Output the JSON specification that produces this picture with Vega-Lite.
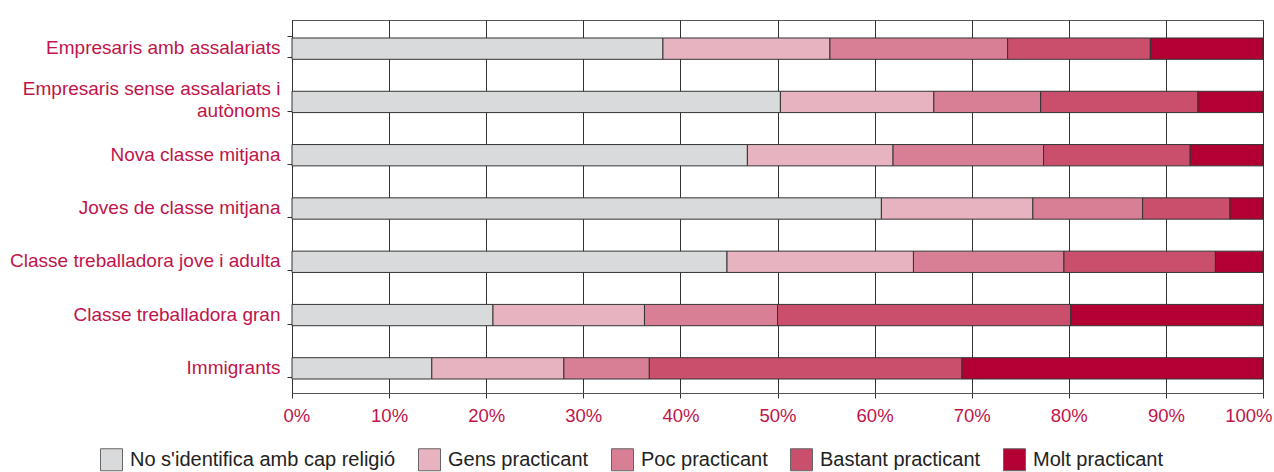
{
  "$schema": "https://vega.github.io/schema/vega-lite/v6.json",
  "autosize": {"type": "none"},
  "padding": {"left": 292, "top": 20, "right": 11, "bottom": 79},
  "width": 971,
  "height": 373,
  "background": "white",
  "config": {
    "font": "Liberation Sans",
    "view": {"stroke": "#555", "strokeWidth": 1}
  },
  "data": {
    "values": [
      {"grup": "Empresaris amb assalariats", "cat": "No s'identifica amb cap religió", "ord": 1, "v": 38.2},
      {"grup": "Empresaris amb assalariats", "cat": "Gens practicant", "ord": 2, "v": 17.2},
      {"grup": "Empresaris amb assalariats", "cat": "Poc practicant", "ord": 3, "v": 18.3},
      {"grup": "Empresaris amb assalariats", "cat": "Bastant practicant", "ord": 4, "v": 14.7},
      {"grup": "Empresaris amb assalariats", "cat": "Molt practicant", "ord": 5, "v": 11.6},
      {"grup": "Empresaris sense assalariats i autònoms", "cat": "No s'identifica amb cap religió", "ord": 1, "v": 50.3},
      {"grup": "Empresaris sense assalariats i autònoms", "cat": "Gens practicant", "ord": 2, "v": 15.8},
      {"grup": "Empresaris sense assalariats i autònoms", "cat": "Poc practicant", "ord": 3, "v": 11.0},
      {"grup": "Empresaris sense assalariats i autònoms", "cat": "Bastant practicant", "ord": 4, "v": 16.2},
      {"grup": "Empresaris sense assalariats i autònoms", "cat": "Molt practicant", "ord": 5, "v": 6.7},
      {"grup": "Nova classe mitjana", "cat": "No s'identifica amb cap religió", "ord": 1, "v": 46.9},
      {"grup": "Nova classe mitjana", "cat": "Gens practicant", "ord": 2, "v": 15.0},
      {"grup": "Nova classe mitjana", "cat": "Poc practicant", "ord": 3, "v": 15.5},
      {"grup": "Nova classe mitjana", "cat": "Bastant practicant", "ord": 4, "v": 15.1},
      {"grup": "Nova classe mitjana", "cat": "Molt practicant", "ord": 5, "v": 7.5},
      {"grup": "Joves de classe mitjana", "cat": "No s'identifica amb cap religió", "ord": 1, "v": 60.7},
      {"grup": "Joves de classe mitjana", "cat": "Gens practicant", "ord": 2, "v": 15.6},
      {"grup": "Joves de classe mitjana", "cat": "Poc practicant", "ord": 3, "v": 11.3},
      {"grup": "Joves de classe mitjana", "cat": "Bastant practicant", "ord": 4, "v": 9.0},
      {"grup": "Joves de classe mitjana", "cat": "Molt practicant", "ord": 5, "v": 3.4},
      {"grup": "Classe treballadora jove i adulta", "cat": "No s'identifica amb cap religió", "ord": 1, "v": 44.8},
      {"grup": "Classe treballadora jove i adulta", "cat": "Gens practicant", "ord": 2, "v": 19.2},
      {"grup": "Classe treballadora jove i adulta", "cat": "Poc practicant", "ord": 3, "v": 15.5},
      {"grup": "Classe treballadora jove i adulta", "cat": "Bastant practicant", "ord": 4, "v": 15.6},
      {"grup": "Classe treballadora jove i adulta", "cat": "Molt practicant", "ord": 5, "v": 4.9},
      {"grup": "Classe treballadora gran", "cat": "No s'identifica amb cap religió", "ord": 1, "v": 20.7},
      {"grup": "Classe treballadora gran", "cat": "Gens practicant", "ord": 2, "v": 15.6},
      {"grup": "Classe treballadora gran", "cat": "Poc practicant", "ord": 3, "v": 13.7},
      {"grup": "Classe treballadora gran", "cat": "Bastant practicant", "ord": 4, "v": 30.2},
      {"grup": "Classe treballadora gran", "cat": "Molt practicant", "ord": 5, "v": 19.8},
      {"grup": "Immigrants", "cat": "No s'identifica amb cap religió", "ord": 1, "v": 14.4},
      {"grup": "Immigrants", "cat": "Gens practicant", "ord": 2, "v": 13.6},
      {"grup": "Immigrants", "cat": "Poc practicant", "ord": 3, "v": 8.8},
      {"grup": "Immigrants", "cat": "Bastant practicant", "ord": 4, "v": 32.2},
      {"grup": "Immigrants", "cat": "Molt practicant", "ord": 5, "v": 31.0}
    ]
  },
  "mark": {"type": "bar", "stroke": "#333", "strokeWidth": 1, "yOffset": 2},
  "encoding": {
    "y": {
      "field": "grup",
      "type": "nominal",
      "sort": null,
      "scale": {"paddingInner": 0.6, "paddingOuter": 0.3},
      "axis": {
        "title": null,
        "grid": false,
        "tickBand": "extent",
        "tickSize": 5,
        "tickColor": "#333",
        "domainColor": "#333",
        "labelFontSize": 19,
        "labelColor": "#c0144a",
        "labelPadding": 7,
        "labelLimit": 300,
        "labelLineHeight": 22,
        "labelOffset": {"condition": {"test": "datum.value == 'Empresaris sense assalariats i autònoms'", "value": -11}, "value": 1},
        "labelExpr": "datum.value == 'Empresaris sense assalariats i autònoms' ? ['Empresaris sense assalariats i', 'autònoms\u00a0\u00a0'] : datum.value"
      }
    },
    "x": {
      "field": "v",
      "type": "quantitative",
      "stack": "zero",
      "scale": {"domain": [0, 100], "nice": false},
      "axis": {
        "title": null,
        "values": [0, 10, 20, 30, 40, 50, 60, 70, 80, 90, 100],
        "labelExpr": "datum.value + '%'",
        "grid": true,
        "gridColor": "#333",
        "gridWidth": 1,
        "gridOpacity": 1,
        "tickSize": 5,
        "tickColor": "#333",
        "domainColor": "#555",
        "labelFontSize": 18.5,
        "labelColor": "#c0144a",
        "labelPadding": 8,
        "labelFlush": true,
        "labelFlushOffset": 9
      }
    },
    "color": {
      "field": "cat",
      "type": "nominal",
      "scale": {
        "domain": ["No s'identifica amb cap religió", "Gens practicant", "Poc practicant", "Bastant practicant", "Molt practicant"],
        "range": ["#d9dadc", "#e8b3c1", "#d97f95", "#c94f6d", "#b20032"]
      },
      "legend": {
        "title": null,
        "orient": "none",
        "direction": "horizontal",
        "legendX": -192,
        "legendY": 428,
        "symbolType": "square",
        "symbolSize": 484,
        "symbolStrokeColor": "#666",
        "symbolStrokeWidth": 1,
        "symbolOpacity": 1,
        "labelFontSize": 20,
        "labelColor": "#222",
        "labelOffset": 7,
        "columnPadding": 20,
        "labelLimit": 400
      }
    },
    "order": {"field": "ord", "type": "quantitative"}
  }
}
